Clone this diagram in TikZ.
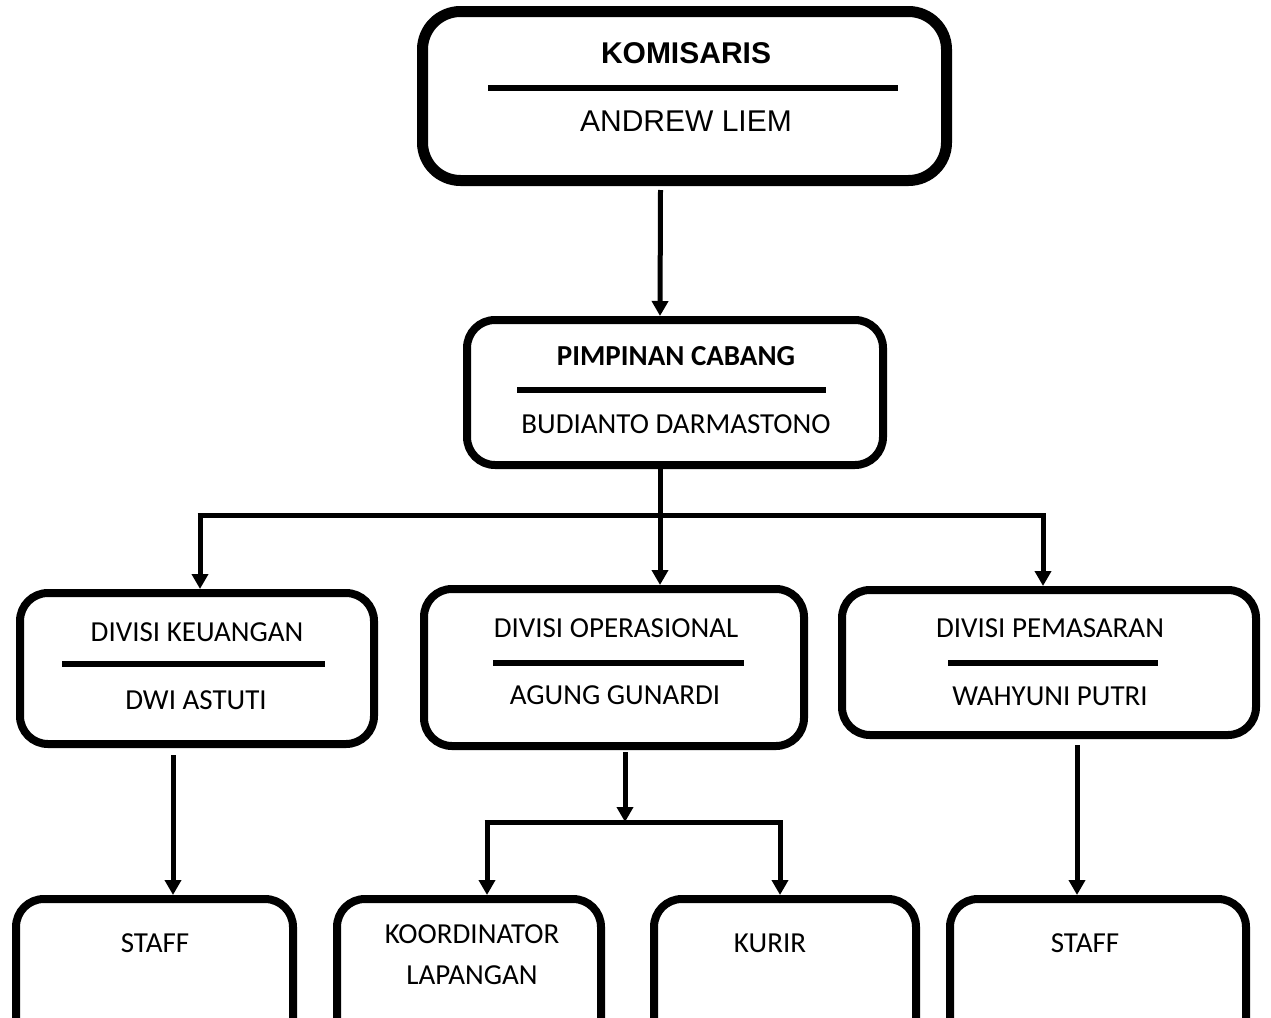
\documentclass[tikz,border=0pt]{standalone}
\usepackage{fontspec}
\setmainfont{Carlito}
\newfontfamily\arialfont{Liberation Sans}
\usetikzlibrary{arrows.meta,positioning}

\begin{document}
\begin{tikzpicture}[x=1pt,y=-1pt,
  box/.style={draw, line width=8pt, rounded corners=28pt, inner sep=0pt},
  topbox/.style={box, line width=11pt, rounded corners=38pt},
  leafbox/.style={box, minimum height=160pt},
  txt/.style={inner sep=0pt, font=\fontsize{29}{41}\selectfont, align=center},
  bigtxt/.style={inner sep=0pt, font=\arialfont\fontsize{30}{36}\selectfont},
  sep/.style={line width=5.5pt},
  lnk/.style={line width=5pt},
  arr/.style={lnk, -{Triangle[length=15pt,width=16pt]}}]
\clip (0,0) rectangle (1271,1017);
\fill[white] (0,0) rectangle (1271,1017);

% komisaris
\node[topbox, minimum width=524pt, minimum height=169pt] (komis) at (684.5,96) {};
\node[bigtxt, font=\arialfont\bfseries\fontsize{30}{36}\selectfont] (komisT) at (686,53) {KOMISARIS};
\draw[sep] (488,88) -- (898,88);
\node[bigtxt] (komisN) at (686,121) {ANDREW LIEM};

% pimpinan cabang
\node[box, minimum width=416pt, minimum height=145pt] (pimp) at (675,392.5) {};
\node[txt, font=\bfseries\fontsize{29}{41}\selectfont] (pimpT) at (676,356) {PIMPINAN CABANG};
\draw[sep] (517,390) -- (826,390);
\node[txt] (pimpN) at (676,424) {BUDIANTO DARMASTONO};

% divisi
\node[box, minimum width=354pt, minimum height=151pt] (keu) at (197,668.5) {};
\node[txt] (keuT) at (197,632) {DIVISI KEUANGAN};
\draw[sep] (62,664) -- (325,664);
\node[txt] (keuN) at (196,700) {DWI ASTUTI};

\node[box, minimum width=380pt, minimum height=157pt] (oper) at (614,667.5) {};
\node[txt] (operT) at (616,628) {DIVISI OPERASIONAL};
\draw[sep] (493,663) -- (744,663);
\node[txt] (operN) at (615,695) {AGUNG GUNARDI};

\node[box, minimum width=414pt, minimum height=145pt] (pem) at (1049,662.5) {};
\node[txt] (pemT) at (1050,628) {DIVISI PEMASARAN};
\draw[sep] (948,663) -- (1158,663);
\node[txt] (pemN) at (1050,696) {WAHYUNI PUTRI};

% bawah
\node[leafbox, minimum width=277pt] (staffL) at (154.5,979) {};
\node[txt] at (155,943) {STAFF};
\node[leafbox, minimum width=264pt] (koord) at (469,979) {};
\node[txt] at (472,955) {KOORDINATOR\\LAPANGAN};
\node[leafbox, minimum width=262pt] (kurir) at (785,979) {};
\node[txt] at (770,943) {KURIR};
\node[leafbox, minimum width=296pt] (staffR) at (1098,979) {};
\node[txt] at (1085,943) {STAFF};

% garis
\draw[arr] ([xshift=-24pt,yshift=-4pt]komis.south) -- ([xshift=-15pt]pimp.north);
\draw[arr] ([xshift=-15pt]pimp.south) -- ([xshift=46pt]oper.north);
\coordinate (splitL) at (200,515);
\coordinate (splitR) at (1043,515);
\draw[lnk] ([xshift=-2.5pt]splitL) -- ([xshift=2.5pt]splitR);
\draw[arr] (splitL) -- (splitL |- keu.north);
\draw[arr] (splitR) -- (splitR |- pem.north);

\draw[arr] ([xshift=-24pt,yshift=-7pt]keu.south) -- ([xshift=-24pt]keu.south |- staffL.north);

\coordinate (busL) at (487,822);
\coordinate (busR) at (780,822);
\draw[arr] ([xshift=11pt,yshift=-2pt]oper.south) -- ([xshift=11pt]oper.south |- busL);
\draw[lnk] ([xshift=-2.5pt]busL) -- ([xshift=2.5pt]busR);
\draw[arr] (busL) -- (busL |- koord.north);
\draw[arr] (busR) -- (busR |- kurir.north);

\draw[arr] ([xshift=28pt,yshift=-6pt]pem.south) -- ([xshift=28pt]pem.south |- staffR.north);
\end{tikzpicture}
\end{document}
